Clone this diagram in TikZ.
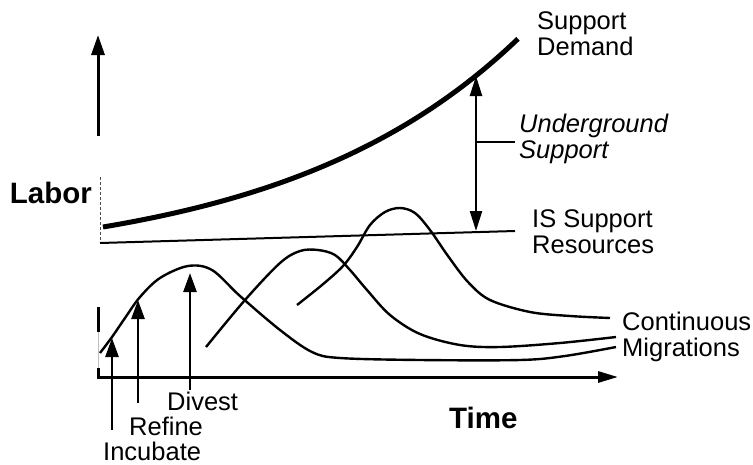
\documentclass[tikz,border=0pt]{standalone}
\usepackage{fontspec}
\setmainfont{Liberation Sans}
\usetikzlibrary{arrows.meta}
\begin{document}
\begin{tikzpicture}[x=1pt,y=-1pt,
  lbl/.style={font=\fontsize{25.5}{26}\selectfont, inner sep=0pt, align=left, anchor=north west},
  ttl/.style={font=\fontsize{29.5}{30}\selectfont\bfseries, inner sep=0pt},
  wave/.style={line width=2.4pt, line join=round},
  axisline/.style={line width=3pt},
  tipup/.style={line width=2.6pt, -{Triangle[length=19pt,width=13pt]}},
  gaparrow/.style={line width=2.4pt, {Triangle[length=20pt,width=12pt]}-{Triangle[length=20pt,width=12pt]}},
]
\useasboundingbox (0,0) rectangle (753,464);

% axes
\coordinate (yb) at (98,136);
\coordinate (yt) at (98,35);
\coordinate (org) at (97,377);
\coordinate (xt) at (618,377);
\draw[axisline, -{Triangle[length=20pt,width=13pt]}] (yb) -- (yt);
\draw[axisline, -{Triangle[length=20pt,width=11pt]}] (org) -- (xt);
\draw[line width=0.8pt, dashed, dash pattern=on 3pt off 2pt, black!70] (100,177) -- (100,243);
\draw[line width=3pt] (98,307) -- (98,332);
\draw[line width=1pt, black!25] (98,332) -- (98,368);
\draw[line width=3pt] (98,368) -- (98,378);

% axis titles
\node[ttl, anchor=base east] (labor) at (92,203) {Labor};
\node[ttl, anchor=base west] (time) at (449,428) {Time};

% support demand
\draw[line width=5pt] plot[domain=103:518, samples=80] (\x, {227-40*(exp(0.0042*(\x-103))-1)});
\node[lbl] (demand) at (537,11) {Support\\Demand};

% IS support resources
\coordinate (isL) at (100,243);
\coordinate (isR) at (515,231);
\draw[line width=2pt] (isL) -- (isR);
\node[lbl] (isres) at (532,209) {IS Support\\Resources};

% underground support gap
\coordinate (gapT) at (476,76);
\coordinate (gapB) at (476,231);
\coordinate (gapM) at (476,142);
\coordinate (gapE) at (515,142);
\draw[gaparrow] (gapB) -- (gapT);
\draw[line width=2pt] (gapM) -- (gapE);
\node[lbl, font=\fontsize{25.5}{26}\selectfont\itshape] (under) at (519,114) {Underground\\Support};

% migration waves
\draw[wave] plot[smooth, tension=0.55] coordinates {(100,353) (112,337) (125,318) (140,297) (160,278) (188,266) (212,270) (240,296) (280,330) (312,352) (340,358) (420,360) (520,360) (565,356) (616,347)};
\draw[wave] plot[smooth, tension=0.55] coordinates {(206,347) (245,300) (280,263) (300,251) (318,250) (335,255) (350,270) (367,290) (390,315) (420,334) (460,345) (500,347) (560,343) (616,337)};
\draw[wave] plot[smooth, tension=0.55] coordinates {(297,305) (322,285) (343,266) (357,247) (370,225) (385,212) (400,208) (415,213) (430,230) (448,256) (468,282) (490,300) (530,312) (570,316) (610,318)};
\node[lbl] (cont) at (622,312) {Continuous\\Migrations};

% phase labels and arrows
\node[lbl, anchor=base west] (divest) at (167,410) {Divest};
\node[lbl, anchor=base west] (refine) at (129,435) {Refine};
\node[lbl, anchor=base west] (incub) at (103,460) {Incubate};
\coordinate (incA) at (112,430);
\coordinate (incB) at (112,338);
\coordinate (refA) at (138,403);
\coordinate (refB) at (138,300);
\coordinate (divA) at (190,390);
\coordinate (divB) at (190,273);
\draw[tipup] (incA) -- (incB);
\draw[tipup] (refA) -- (refB);
\draw[tipup] (divA) -- (divB);
\end{tikzpicture}
\end{document}
